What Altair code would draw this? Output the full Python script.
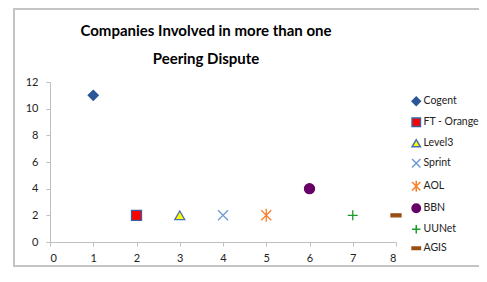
import altair as alt
import pandas as pd

companies = ["Cogent", "FT - Orange", "Level3", "Sprint", "AOL", "BBN", "UUNet", "AGIS"]
x_vals = [1, 2, 3, 4, 5, 6, 7, 8]
y_vals = [11, 2, 2, 2, 2, 4, 2, 2]
x_ticks = [0, 1, 2, 3, 4, 5, 6, 7, 8]
y_ticks = [0, 2, 4, 6, 8, 10, 12]

shapes = [
    "diamond",
    "square",
    "triangle-up",
    "M-1,-1L1,1M-1,1L1,-1",
    "M-1,-1L1,1M-1,1L1,-1M0,-1.3L0,1.3",
    "circle",
    "M-1,0L1,0M0,-1L0,1",
    "M-1,-0.3L1,-0.3L1,0.3L-1,0.3Z",
]
fills = ["#2B5797", "#FF0000", "#FFFF00", "transparent", "transparent", "#660066", "transparent", "#9A4F12"]
strokes = ["#2B5797", "#3A5FA0", "#4A70B0", "#6F9BD4", "#F7802E", "#660066", "#1E9A2A", "#9A4F12"]

df = pd.DataFrame({"company": companies, "x": x_vals, "y": y_vals})

leg = alt.Legend(
    title=None,
    orient="none",
    legendX=361,
    legendY=14,
    padding=0,
    rowPadding=6,
    symbolSize=70,
    labelFont="Lato",
    labelFontSize=10.5,
    labelColor="#222222",
    labelOffset=2,
)

points = alt.Chart(df).mark_point(size=100, opacity=1, strokeWidth=1.3).encode(
    x=alt.X(
        "x:Q",
        scale=alt.Scale(domain=[0, 8], nice=False),
        axis=alt.Axis(values=x_ticks, title=None, grid=False, tickSize=4, labelPadding=6,
                      domainColor="#BFBFBF", tickColor="#BFBFBF", labelFont="Lato",
                      labelFontSize=11, labelColor="#222222", format="d"),
    ),
    y=alt.Y(
        "y:Q",
        scale=alt.Scale(domain=[0, 12], nice=False),
        axis=alt.Axis(values=y_ticks, title=None, grid=False, tickSize=4, labelPadding=8,
                      domainColor="#BFBFBF", tickColor="#BFBFBF", labelFont="Lato",
                      labelFontSize=11, labelColor="#222222", format="d"),
    ),
    shape=alt.Shape("company:N", scale=alt.Scale(domain=companies, range=shapes), legend=leg),
    fill=alt.Fill("company:N", scale=alt.Scale(domain=companies, range=fills), legend=leg),
    stroke=alt.Stroke("company:N", scale=alt.Scale(domain=companies, range=strokes), legend=leg),
)

frame = alt.Chart(alt.Data(values=[{}])).mark_rect(
    fill="transparent", stroke="#C4C4C4", strokeWidth=2
).encode(
    x=alt.value(-36), x2=alt.value(460), y=alt.value(-73), y2=alt.value(184)
)

frame_top = alt.Chart(alt.Data(values=[{}])).mark_rule(
    stroke="#C4C4C4", strokeWidth=2
).encode(
    x=alt.value(-36), x2=alt.value(460), y=alt.value(-73)
)

chart = alt.layer(frame, frame_top, points).properties(
    width=346,
    height=160,
    autosize="none",
    padding={"left": 42, "top": 74, "right": 83, "bottom": 26},
    title=alt.TitleParams(
        ["Companies Involved in more than one", "Peering Dispute"],
        font="Lato", fontSize=15, fontWeight="bold", color="#000000",
        anchor="middle", dx=-17, offset=-59, lineHeight=28,
    ),
).configure_view(stroke=None)

chart.save("out.html", embed_options={"renderer": "svg", "actions": False})
